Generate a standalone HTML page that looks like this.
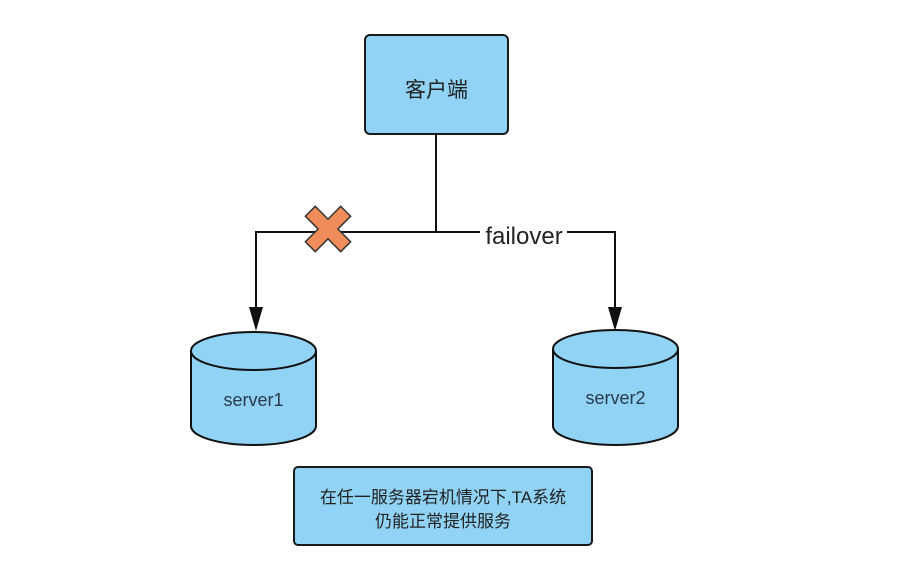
<!DOCTYPE html>
<html><head><meta charset="utf-8"><style>
html,body{margin:0;padding:0;background:#fff;}
</style></head><body>
<svg width="899" height="578" viewBox="0 0 899 578" xmlns="http://www.w3.org/2000/svg">
<rect x="365" y="35" width="143" height="99" rx="5" fill="#91d3f5" stroke="#1a1a1a" stroke-width="2"/>
<text x="436.5" y="97" font-family="Liberation Sans, Noto Sans CJK SC, sans-serif" font-size="21" fill="#222" text-anchor="middle">客户端</text>
<line x1="436" y1="134" x2="436" y2="232" stroke="#111" stroke-width="2"/>
<polyline points="256,309 256,232 480,232" fill="none" stroke="#111" stroke-width="2"/>
<polyline points="567,232 615,232 615,309" fill="none" stroke="#111" stroke-width="2"/>
<text x="524" y="244" font-family="Liberation Sans, sans-serif" font-size="24" fill="#222" text-anchor="middle">failover</text>
<polygon points="249,307 263,307 256,331" fill="#111"/>
<polygon points="608,307 622,307 615,331" fill="#111"/>
<g transform="translate(328,229) rotate(45)">
<path d="M-7,-25 H7 V-7 H25 V7 H7 V25 H-7 V7 H-25 V-7 H-7 Z" fill="#ef8c5a" stroke="#333" stroke-width="1.5"/>
</g>
<g stroke="#111" stroke-width="2" fill="#91d3f5">
<path d="M191,351 V426 A62.5,19 0 0 0 316,426 V351"/>
<ellipse cx="253.5" cy="351" rx="62.5" ry="19"/>
<path d="M553,349 V426 A62.5,19 0 0 0 678,426 V349"/>
<ellipse cx="615.5" cy="349" rx="62.5" ry="19"/>
</g>
<text x="253.5" y="406" font-family="Liberation Sans, sans-serif" font-size="18" fill="#2a3a4a" text-anchor="middle">server1</text>
<text x="615.5" y="404" font-family="Liberation Sans, sans-serif" font-size="18" fill="#2a3a4a" text-anchor="middle">server2</text>
<rect x="294" y="467" width="298" height="78" rx="4" fill="#91d3f5" stroke="#1a1a1a" stroke-width="2"/>
<text x="443" y="503" font-family="Liberation Sans, Noto Sans CJK SC, sans-serif" font-size="17" fill="#222" text-anchor="middle">在任一服务器宕机情况下,TA系统</text>
<text x="443" y="527" font-family="Liberation Sans, Noto Sans CJK SC, sans-serif" font-size="17" fill="#222" text-anchor="middle">仍能正常提供服务</text>
</svg>
</body></html>
